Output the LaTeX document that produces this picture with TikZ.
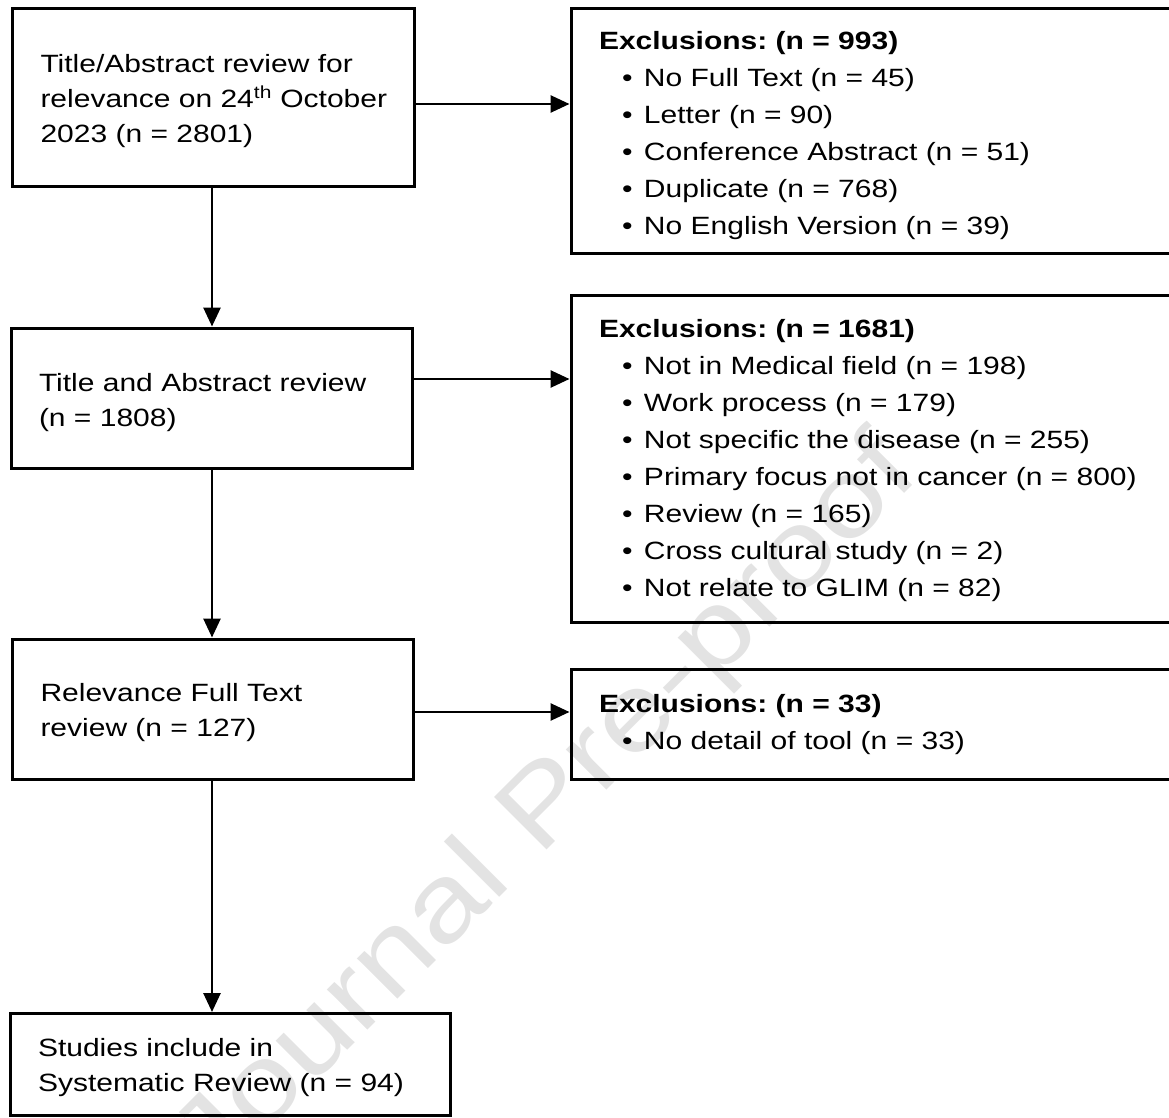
\documentclass[tikz,border=0pt]{standalone}
\usepackage{fontspec}
\setmainfont[FakeStretch=1.2]{Liberation Sans}
\usetikzlibrary{arrows.meta}
\newcommand{\bitem}[1]{\\\hspace*{23pt}\makebox[22pt][l]{\textbullet}#1}
\newcommand{\tdown}[1]{\sbox0{(}\rule{0pt}{\dimexpr\ht0+2\dimexpr#1\relax\relax}}
\begin{document}
\frenchspacing
\begin{tikzpicture}[x=1pt,y=-1pt,
  boxstyle/.style={draw=black, line width=3pt, rectangle, align=left, inner xsep=28pt, inner ysep=0pt,
     font=\fontsize{25}{35}\selectfont},
  exstyle/.style={boxstyle, font=\fontsize{25}{37}\selectfont},
  arr/.style={line width=2.7pt, -{Triangle[length=19pt,width=17pt]}},
  wmark/.style={text=black!11, font=\fontsize{108}{108}\selectfont, rotate=45}
]
\useasboundingbox (0,0) rectangle (1169,1118);
\clip (0,0) rectangle (1169,1118);
\node[wmark] (wm) at (548,810) {Journal Pre-proof};

\node[boxstyle, minimum width=402pt, text width=346pt, minimum height=178pt] (a) at (213.5,97.5)
  {\tdown{4pt}Title/Abstract review for\\\mbox{relevance on 24\textsuperscript{th} October}\\2023 (n = 2801)};
\node[boxstyle, minimum width=401pt, text width=345pt, minimum height=140pt] (b) at (211.5,398)
  {\tdown{5pt}Title and Abstract review\\(n = 1808)};
\node[boxstyle, minimum width=401pt, text width=345pt, minimum height=140pt] (c) at (213,709)
  {\tdown{4pt}Relevance Full Text\\review (n = 127)};
\node[boxstyle, minimum width=440pt, text width=384pt, minimum height=102pt] (d) at (230,1064.5)
  {\tdown{3pt}Studies include in\\Systematic Review (n = 94)};

\node[exstyle, minimum width=629pt, text width=573pt, minimum height=244pt] (e1) at (885.5,131)
  {\tdown{5pt}\textbf{Exclusions: (n = 993)}%
   \bitem{No Full Text (n = 45)}%
   \bitem{Letter (n = 90)}%
   \bitem{Conference Abstract (n = 51)}%
   \bitem{Duplicate (n = 768)}%
   \bitem{No English Version (n = 39)}};
\node[exstyle, minimum width=629pt, text width=573pt, minimum height=327.5pt] (e2) at (885.5,458.75)
  {\tdown{2pt}\textbf{Exclusions: (n = 1681)}%
   \bitem{Not in Medical field (n = 198)}%
   \bitem{Work process (n = 179)}%
   \bitem{Not specific the disease (n = 255)}%
   \bitem{Primary focus not in cancer (n = 800)}%
   \bitem{Review (n = 165)}%
   \bitem{Cross cultural study (n = 2)}%
   \bitem{Not relate to GLIM (n = 82)}};
\node[exstyle, minimum width=629pt, text width=573pt, minimum height=109.5pt] (e3) at (885.5,724.25)
  {\textbf{Exclusions: (n = 33)}%
   \bitem{No detail of tool (n = 33)}};

\draw[arr] ([xshift=-1.5pt]a.south) -- ([xshift=-1.5pt]a.south |- b.north);
\draw[arr] ([xshift=-1.5pt]a.south |- b.south) -- ([xshift=-1.5pt]a.south |- c.north);
\draw[arr] ([xshift=-1.5pt]a.south |- c.south) -- ([xshift=-1.5pt]a.south |- d.north);

\draw[arr] ([yshift=-6.5pt]a.east) -- ([yshift=-6.5pt]a.east -| e1.west);
\draw[arr] ([yshift=19pt]b.east) -- ([yshift=19pt]b.east -| e2.west);
\draw[arr] ([yshift=-3pt]c.east) -- ([yshift=-3pt]c.east -| e3.west);
\end{tikzpicture}
\end{document}
